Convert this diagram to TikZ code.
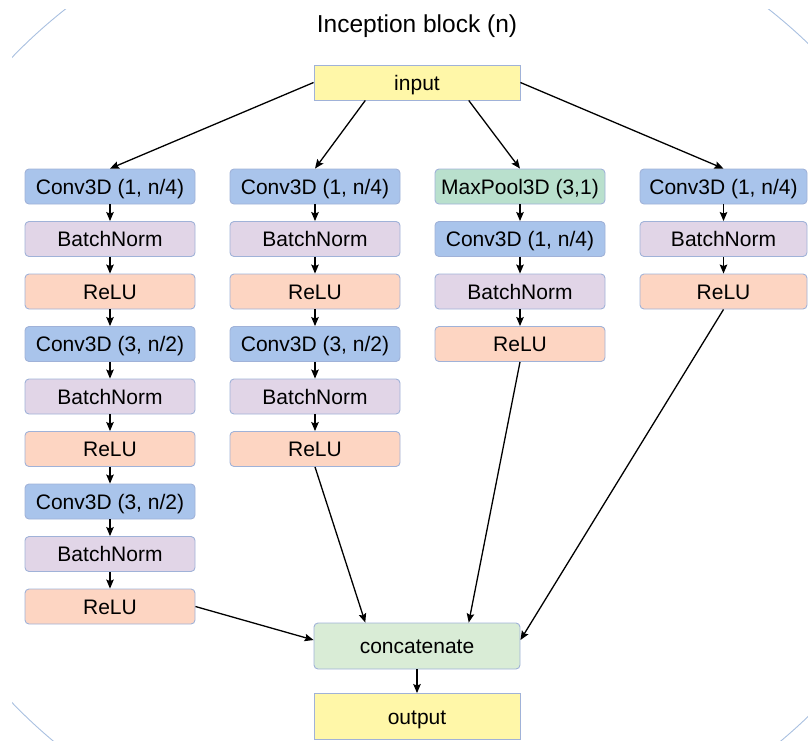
\documentclass[tikz,border=0pt]{standalone}
\usepackage{fontspec}
\setmainfont{Liberation Sans}
\usetikzlibrary{arrows.meta,calc}
\definecolor{convfill}{HTML}{A9C4EB}
\definecolor{bnfill}{HTML}{E1D5E7}
\definecolor{relufill}{HTML}{FDD5C2}
\definecolor{poolfill}{HTML}{B9E0CD}
\definecolor{catfill}{HTML}{D9ECD6}
\definecolor{ioyellow}{HTML}{FFF7A8}
\definecolor{edgeblue}{HTML}{A0B2D8}
\definecolor{framecol}{HTML}{A9C0E0}
\tikzset{
  blk/.style={rectangle, rounded corners=4pt, draw=edgeblue, line width=0.9pt,
    minimum width=170pt, minimum height=35pt, inner sep=0pt,
    text height=15pt, text depth=0pt, font=\fontsize{21}{25}\selectfont},
  conv/.style={blk, fill=convfill},
  bn/.style={blk, fill=bnfill},
  relu/.style={blk, fill=relufill},
  pool/.style={blk, fill=poolfill},
  iobox/.style={blk, rounded corners=0pt, fill=ioyellow, minimum width=206pt},
  catbox/.style={blk, fill=catfill, minimum width=206pt, minimum height=46pt},
  arr/.style={-{Stealth[length=9pt,width=7.5pt,inset=1.5pt]}, line width=1.3pt, black},
  ttl/.style={font=\fontsize{24.5}{29}\selectfont, text height=17.5pt, text depth=0pt, inner sep=0pt}
}
\begin{document}
\begin{tikzpicture}[x=1pt,y=1pt]
\useasboundingbox (0,0) rectangle (808,-740);
\begin{scope}
\clip (12,-9) rectangle (808,-740);
\draw[framecol, line width=0.9pt] (417,-380) ellipse [x radius=538, y radius=490];
\end{scope}

\node[ttl] (title) at (417,-24) {Inception block (n)};
\node[iobox] (input) at (417,-82.5) {input};

% column 1
\node[conv] (c1r1) at (110,-186.5) {Conv3D (1, n/4)};
\node[bn]   (c1r2) at (110,-239)   {BatchNorm};
\node[relu] (c1r3) at (110,-291.5) {ReLU};
\node[conv] (c1r4) at (110,-344)   {Conv3D (3, n/2)};
\node[bn]   (c1r5) at (110,-396.5) {BatchNorm};
\node[relu] (c1r6) at (110,-449)   {ReLU};
\node[conv] (c1r7) at (110,-501.5) {Conv3D (3, n/2)};
\node[bn]   (c1r8) at (110,-554)   {BatchNorm};
\node[relu] (c1r9) at (110,-606.5) {ReLU};

% column 2
\node[conv] (c2r1) at (315,-186.5) {Conv3D (1, n/4)};
\node[bn]   (c2r2) at (315,-239)   {BatchNorm};
\node[relu] (c2r3) at (315,-291.5) {ReLU};
\node[conv] (c2r4) at (315,-344)   {Conv3D (3, n/2)};
\node[bn]   (c2r5) at (315,-396.5) {BatchNorm};
\node[relu] (c2r6) at (315,-449)   {ReLU};

% column 3
\node[pool] (c3r1) at (520,-186.5) {MaxPool3D (3,1)};
\node[conv] (c3r2) at (520,-239)   {Conv3D (1, n/4)};
\node[bn]   (c3r3) at (520,-291.5) {BatchNorm};
\node[relu] (c3r4) at (520,-344)   {ReLU};

% column 4
\node[conv, minimum width=167pt] (c4r1) at (723.5,-186.5) {Conv3D (1, n/4)};
\node[bn,   minimum width=167pt] (c4r2) at (723.5,-239)   {BatchNorm};
\node[relu, minimum width=167pt] (c4r3) at (723.5,-291.5) {ReLU};

\node[catbox] (concat) at (417,-646) {concatenate};
\node[iobox, minimum height=46pt] (output) at (417,-716.5) {output};

% input fan-out
\draw[arr] (input.west) -- (c1r1.north);
\draw[arr] ($(input.south west)!0.25!(input.south east)$) -- (c2r1.north);
\draw[arr] ($(input.south west)!0.75!(input.south east)$) -- (c3r1.north);
\draw[arr] (input.east) -- (c4r1.north);

% vertical chains
\foreach \a/\b in {c1r1/c1r2,c1r2/c1r3,c1r3/c1r4,c1r4/c1r5,c1r5/c1r6,c1r6/c1r7,c1r7/c1r8,c1r8/c1r9,
                   c2r1/c2r2,c2r2/c2r3,c2r3/c2r4,c2r4/c2r5,c2r5/c2r6,
                   c3r1/c3r2,c3r2/c3r3,c3r3/c3r4,
                   c4r1/c4r2,c4r2/c4r3}
  \draw[arr] (\a.south) -- (\b.north);

% into concatenate
\draw[arr] (c1r9.east) -- ($(concat.west)+(0,6)$);
\draw[arr] (c2r6.south) -- ($(concat.north west)!0.25!(concat.north east)$);
\draw[arr] (c3r4.south) -- ($(concat.north west)!0.75!(concat.north east)$);
\draw[arr] (c4r3.south) -- ($(concat.east)+(0,6)$);
\draw[arr] (concat.south) -- (output.north);
\end{tikzpicture}
\end{document}
